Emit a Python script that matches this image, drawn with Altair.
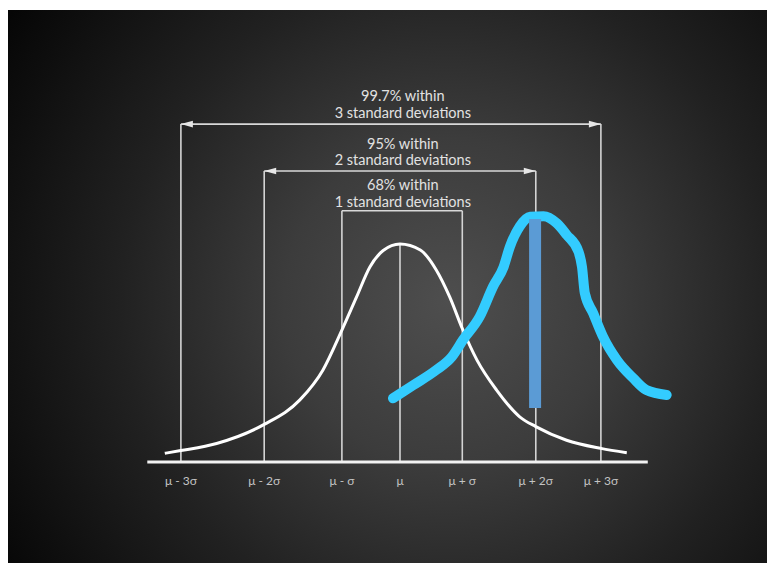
import altair as alt
import pandas as pd

# ---- data (x in sigma-like units, y in density-like units) ----
tick_labels = ["μ - 3σ", "μ - 2σ", "μ - σ", "μ", "μ + σ", "μ + 2σ", "μ + 3σ"]
tick_x = [-3.13, -1.94, -0.83, 0.0, 0.89, 1.94, 2.87]
tick_top = [0.620, 0.534, 0.461, 0.400, 0.461, 0.534, 0.620]

range_lo = [-3.13, -1.94, -0.83]
range_hi = [2.87, 1.94, 0.89]
range_y = [0.620, 0.534, 0.461]
range_line1 = ["99.7% within", "95% within", "68% within"]
range_line2 = ["3 standard deviations", "2 standard deviations", "1 standard deviations"]
range_line1_y = [0.669, 0.581, 0.506]
range_line2_y = [0.638, 0.552, 0.476]
text_x = 0.04

bell_x = [-3.36, -3.13, -2.62, -1.94, -1.43, -1.10, -0.83, -0.62, -0.43, -0.24, 0.0,
          0.29, 0.52, 0.71, 0.89, 1.10, 1.38, 1.71, 1.94, 2.38, 2.87, 3.24]
bell_y = [0.016, 0.021, 0.034, 0.069, 0.114, 0.169, 0.242, 0.303, 0.358, 0.388, 0.400,
          0.389, 0.352, 0.303, 0.245, 0.187, 0.132, 0.083, 0.065, 0.040, 0.025, 0.017]

hand_x = [-0.10, 0.19, 0.52, 0.74, 0.90, 1.14, 1.33, 1.48, 1.57, 1.71, 1.86, 2.05,
          2.24, 2.38, 2.55, 2.60, 2.64, 2.76, 2.90, 3.10, 3.33, 3.52, 3.81]
hand_y = [0.117, 0.141, 0.169, 0.193, 0.224, 0.267, 0.322, 0.358, 0.395, 0.432, 0.450, 0.451,
          0.438, 0.417, 0.386, 0.358, 0.310, 0.273, 0.230, 0.187, 0.154, 0.132, 0.123]

bar_x = [1.93]
bar_top = [0.446]
bar_bottom = [0.099]

baseline_lo, baseline_hi = -3.61, 3.54
label_y = -0.035

# ---- layout ----
W, H = 759, 553
X_DOMAIN = [-5.6, 5.243]
Y_DOMAIN = [-0.1853, 0.8294]
xs = alt.Scale(domain=X_DOMAIN, nice=False, zero=False)
ys = alt.Scale(domain=Y_DOMAIN, nice=False, zero=False)
FONT = "Lato"

bg = alt.Chart(pd.DataFrame({"a": [0]})).mark_rect(
    color=alt.RadialGradient(
        gradient="radial",
        x1=0.58, y1=0.52, r1=0.0,
        x2=0.58, y2=0.52, r2=0.72,
        stops=[
            alt.GradientStop(offset=0.0, color="#4e4e4e"),
            alt.GradientStop(offset=0.3, color="#3c3c3c"),
            alt.GradientStop(offset=0.6, color="#212121"),
            alt.GradientStop(offset=1.0, color="#030303"),
        ],
    )
).encode(x=alt.value(0), x2=alt.value(W), y=alt.value(0), y2=alt.value(H))

vlines_df = pd.DataFrame({"x": tick_x, "top": tick_top, "zero": [0.0] * len(tick_x)})
vlines = alt.Chart(vlines_df).mark_rule(color="#d4d4d4", strokeWidth=1.6).encode(
    x=alt.X("x:Q", scale=xs, axis=None),
    y=alt.Y("top:Q", scale=ys, axis=None),
    y2="zero:Q",
)

base_df = pd.DataFrame({"lo": [baseline_lo], "hi": [baseline_hi], "y": [0.0]})
baseline = alt.Chart(base_df).mark_rule(color="#f2f2f2", strokeWidth=3).encode(
    x=alt.X("lo:Q", scale=xs, axis=None),
    x2="hi:Q",
    y=alt.Y("y:Q", scale=ys, axis=None),
)

rng_df = pd.DataFrame({"lo": range_lo, "hi": range_hi, "y": range_y})
ranges = alt.Chart(rng_df).mark_rule(color="#d8d8d8", strokeWidth=1.6).encode(
    x=alt.X("lo:Q", scale=xs, axis=None),
    x2="hi:Q",
    y=alt.Y("y:Q", scale=ys, axis=None),
)

arr_df = pd.DataFrame({"lo": range_lo[:2], "hi": range_hi[:2], "y": range_y[:2]})
arrow_l = alt.Chart(arr_df).mark_point(
    shape="M0,0L2,-0.55L2,0.55Z", filled=True, color="#e6e6e6", opacity=1, size=144
).encode(x=alt.X("lo:Q", scale=xs, axis=None), y=alt.Y("y:Q", scale=ys, axis=None))
arrow_r = alt.Chart(arr_df).mark_point(
    shape="M0,0L-2,-0.55L-2,0.55Z", filled=True, color="#e6e6e6", opacity=1, size=144
).encode(x=alt.X("hi:Q", scale=xs, axis=None), y=alt.Y("y:Q", scale=ys, axis=None))

txt_df = pd.DataFrame({
    "x": [text_x] * 6,
    "y": range_line1_y + range_line2_y,
    "t": range_line1 + range_line2,
})
texts = alt.Chart(txt_df).mark_text(
    font=FONT, fontSize=14.5, color="#e2e2e2", baseline="middle", align="center"
).encode(
    x=alt.X("x:Q", scale=xs, axis=None),
    y=alt.Y("y:Q", scale=ys, axis=None),
    text="t:N",
)

lab_df = pd.DataFrame({"x": tick_x, "y": [label_y] * len(tick_x), "t": tick_labels})
labels = alt.Chart(lab_df).mark_text(
    font=FONT, fontSize=12, color="#c4c4c4", baseline="middle", align="center"
).encode(
    x=alt.X("x:Q", scale=xs, axis=None),
    y=alt.Y("y:Q", scale=ys, axis=None),
    text="t:N",
)

bell_df = pd.DataFrame({"x": bell_x, "y": bell_y, "i": range(len(bell_x))})
bell = alt.Chart(bell_df).mark_line(
    color="#ffffff", strokeWidth=3, interpolate="monotone"
).encode(
    x=alt.X("x:Q", scale=xs, axis=None),
    y=alt.Y("y:Q", scale=ys, axis=None),
    order="i:Q",
)

hand_df = pd.DataFrame({"x": hand_x, "y": hand_y, "i": range(len(hand_x))})
hand = alt.Chart(hand_df).mark_line(
    color="#33ccff", strokeWidth=10, strokeCap="round", strokeJoin="round",
    interpolate="monotone"
).encode(
    x=alt.X("x:Q", scale=xs, axis=None),
    y=alt.Y("y:Q", scale=ys, axis=None),
    order="i:Q",
)

bar_df = pd.DataFrame({"x": bar_x, "top": bar_top, "bot": bar_bottom})
bar = alt.Chart(bar_df).mark_rule(color="#5b9bd5", strokeWidth=12, strokeCap="butt").encode(
    x=alt.X("x:Q", scale=xs, axis=None),
    y=alt.Y("top:Q", scale=ys, axis=None),
    y2="bot:Q",
)

chart = alt.layer(
    bg, vlines, baseline, ranges, arrow_l, arrow_r, texts, labels, bell, hand, bar
).properties(
    width=W,
    height=H,
    padding={"top": 2, "left": 0, "right": 0, "bottom": 0},
    background="white",
).configure_view(stroke="#8a8a8a", strokeWidth=1)

chart.save("out.html", embed_options={"renderer": "svg", "actions": False})
